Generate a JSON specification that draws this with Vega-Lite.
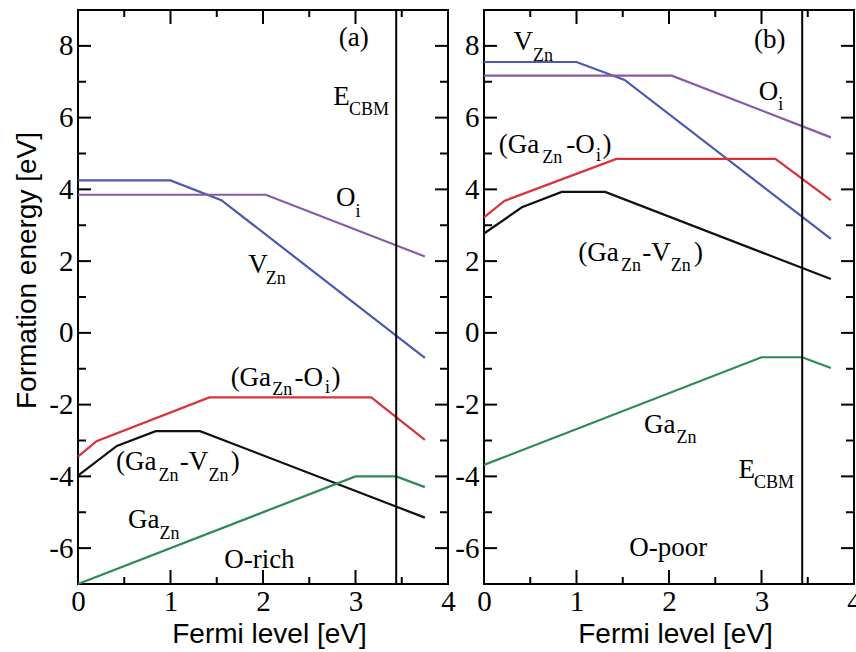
{
  "$schema": "https://vega.github.io/schema/vega-lite/v6.json",
  "padding": {"left": 12, "top": 8, "right": 2, "bottom": 2},
  "background": "white",
  "datasets": {
    "lines": [
      {"panel": "a", "series": "V", "x": 0, "y": 4.25},
      {"panel": "a", "series": "V", "x": 1.0, "y": 4.25},
      {"panel": "a", "series": "V", "x": 1.55, "y": 3.7},
      {"panel": "a", "series": "V", "x": 3.75, "y": -0.7},
      {"panel": "a", "series": "O", "x": 0, "y": 3.85},
      {"panel": "a", "series": "O", "x": 2.03, "y": 3.85},
      {"panel": "a", "series": "O", "x": 3.75, "y": 2.13},
      {"panel": "a", "series": "GO", "x": 0, "y": -3.45},
      {"panel": "a", "series": "GO", "x": 0.2, "y": -3.02},
      {"panel": "a", "series": "GO", "x": 1.42, "y": -1.8},
      {"panel": "a", "series": "GO", "x": 3.17, "y": -1.8},
      {"panel": "a", "series": "GO", "x": 3.75, "y": -2.98},
      {"panel": "a", "series": "GV", "x": 0, "y": -3.98},
      {"panel": "a", "series": "GV", "x": 0.42, "y": -3.15},
      {"panel": "a", "series": "GV", "x": 0.84, "y": -2.74},
      {"panel": "a", "series": "GV", "x": 1.32, "y": -2.74},
      {"panel": "a", "series": "GV", "x": 3.75, "y": -5.15},
      {"panel": "a", "series": "G", "x": 0, "y": -7.0},
      {"panel": "a", "series": "G", "x": 3.0, "y": -4.0},
      {"panel": "a", "series": "G", "x": 3.44, "y": -4.0},
      {"panel": "a", "series": "G", "x": 3.75, "y": -4.3},
      {"panel": "b", "series": "V", "x": 0, "y": 7.55},
      {"panel": "b", "series": "V", "x": 1.0, "y": 7.55},
      {"panel": "b", "series": "V", "x": 1.52, "y": 7.05},
      {"panel": "b", "series": "V", "x": 3.75, "y": 2.62},
      {"panel": "b", "series": "O", "x": 0, "y": 7.17},
      {"panel": "b", "series": "O", "x": 2.03, "y": 7.17},
      {"panel": "b", "series": "O", "x": 3.75, "y": 5.45},
      {"panel": "b", "series": "GO", "x": 0, "y": 3.22},
      {"panel": "b", "series": "GO", "x": 0.22, "y": 3.68},
      {"panel": "b", "series": "GO", "x": 1.43, "y": 4.85},
      {"panel": "b", "series": "GO", "x": 3.15, "y": 4.85},
      {"panel": "b", "series": "GO", "x": 3.75, "y": 3.7},
      {"panel": "b", "series": "GV", "x": 0, "y": 2.77},
      {"panel": "b", "series": "GV", "x": 0.41, "y": 3.5},
      {"panel": "b", "series": "GV", "x": 0.84, "y": 3.93},
      {"panel": "b", "series": "GV", "x": 1.31, "y": 3.93},
      {"panel": "b", "series": "GV", "x": 3.75, "y": 1.5},
      {"panel": "b", "series": "G", "x": 0, "y": -3.68},
      {"panel": "b", "series": "G", "x": 3.0, "y": -0.68},
      {"panel": "b", "series": "G", "x": 3.44, "y": -0.68},
      {"panel": "b", "series": "G", "x": 3.75, "y": -0.98}
    ],
    "cbm": [
      {"panel": "a", "x": 3.44, "y": -7, "y2": 9},
      {"panel": "b", "x": 3.44, "y": -7, "y2": 9}
    ],
    "yt": [
      {"kind": "major", "y": -6}, {"kind": "minor", "y": -5}, {"kind": "major", "y": -4}, {"kind": "minor", "y": -3},
      {"kind": "major", "y": -2}, {"kind": "minor", "y": -1}, {"kind": "major", "y": 0}, {"kind": "minor", "y": 1},
      {"kind": "major", "y": 2}, {"kind": "minor", "y": 3}, {"kind": "major", "y": 4}, {"kind": "minor", "y": 5},
      {"kind": "major", "y": 6}, {"kind": "minor", "y": 7}, {"kind": "major", "y": 8}
    ],
    "xt": [
      {"kind": "minor", "x": 0.5}, {"kind": "major", "x": 1}, {"kind": "minor", "x": 1.5}, {"kind": "major", "x": 2},
      {"kind": "minor", "x": 2.5}, {"kind": "major", "x": 3}, {"kind": "minor", "x": 3.5}
    ],
    "labels": [
      {"panel": "a", "role": "main", "x": 2.82, "y": 8.0, "t": "(a)"},
      {"panel": "a", "role": "main", "x": 2.76, "y": 6.35, "t": "E"},
      {"panel": "a", "role": "sub", "x": 2.93, "y": 6.07, "t": "CBM"},
      {"panel": "a", "role": "main", "x": 2.79, "y": 3.54, "t": "O"},
      {"panel": "a", "role": "sub", "x": 3.0, "y": 3.22, "t": "i"},
      {"panel": "a", "role": "main", "x": 1.84, "y": 1.67, "t": "V"},
      {"panel": "a", "role": "sub", "x": 2.03, "y": 1.36, "t": "Zn"},
      {"panel": "a", "role": "main", "x": 1.65, "y": -1.48, "t": "(Ga"},
      {"panel": "a", "role": "sub", "x": 2.1, "y": -1.72, "t": "Zn"},
      {"panel": "a", "role": "main", "x": 2.34, "y": -1.48, "t": "-O"},
      {"panel": "a", "role": "sub", "x": 2.67, "y": -1.68, "t": "i"},
      {"panel": "a", "role": "main", "x": 2.74, "y": -1.48, "t": ")"},
      {"panel": "a", "role": "main", "x": 0.41, "y": -3.82, "t": "(Ga"},
      {"panel": "a", "role": "sub", "x": 0.87, "y": -4.12, "t": "Zn"},
      {"panel": "a", "role": "main", "x": 1.1, "y": -3.82, "t": "-V"},
      {"panel": "a", "role": "sub", "x": 1.41, "y": -4.12, "t": "Zn"},
      {"panel": "a", "role": "main", "x": 1.65, "y": -3.82, "t": ")"},
      {"panel": "a", "role": "main", "x": 0.54, "y": -5.43, "t": "Ga"},
      {"panel": "a", "role": "sub", "x": 0.88, "y": -5.75, "t": "Zn"},
      {"panel": "a", "role": "main", "x": 1.58, "y": -6.55, "t": "O-rich"},
      {"panel": "b", "role": "main", "x": 0.32, "y": 7.88, "t": "V"},
      {"panel": "b", "role": "sub", "x": 0.53, "y": 7.58, "t": "Zn"},
      {"panel": "b", "role": "main", "x": 2.92, "y": 7.94, "t": "(b)"},
      {"panel": "b", "role": "main", "x": 2.97, "y": 6.49, "t": "O"},
      {"panel": "b", "role": "sub", "x": 3.18, "y": 6.2, "t": "i"},
      {"panel": "b", "role": "main", "x": 0.16, "y": 5.01, "t": "(Ga"},
      {"panel": "b", "role": "sub", "x": 0.63, "y": 4.74, "t": "Zn"},
      {"panel": "b", "role": "main", "x": 0.89, "y": 5.01, "t": "-O"},
      {"panel": "b", "role": "sub", "x": 1.21, "y": 4.78, "t": "i"},
      {"panel": "b", "role": "main", "x": 1.28, "y": 5.01, "t": ")"},
      {"panel": "b", "role": "main", "x": 1.02, "y": 2.0, "t": "(Ga"},
      {"panel": "b", "role": "sub", "x": 1.48, "y": 1.72, "t": "Zn"},
      {"panel": "b", "role": "main", "x": 1.71, "y": 2.0, "t": "-V"},
      {"panel": "b", "role": "sub", "x": 2.02, "y": 1.72, "t": "Zn"},
      {"panel": "b", "role": "main", "x": 2.27, "y": 2.0, "t": ")"},
      {"panel": "b", "role": "main", "x": 1.73, "y": -2.79, "t": "Ga"},
      {"panel": "b", "role": "sub", "x": 2.08, "y": -3.08, "t": "Zn"},
      {"panel": "b", "role": "main", "x": 2.75, "y": -4.04, "t": "E"},
      {"panel": "b", "role": "sub", "x": 2.92, "y": -4.32, "t": "CBM"},
      {"panel": "b", "role": "main", "x": 1.57, "y": -6.21, "t": "O-poor"}
    ]
  },
  "spacing": 36,
  "bounds": "flush",
  "hconcat": [
    {
      "width": 370,
      "height": 574,
      "layer": [
        {
          "data": {"name": "lines"},
          "transform": [{"filter": "datum.panel === 'a'"}],
          "mark": {"type": "line", "strokeWidth": 2.2},
          "encoding": {
            "x": {"field": "x", "type": "quantitative", "scale": {"domain": [0, 4], "nice": false, "zero": false},
              "axis": {"orient": "bottom", "values": [0, 1, 2, 3, 4], "domain": false, "ticks": false, "labelPadding": 3, "labelExpr": "'' + datum.value", "title": "Fermi level [eV]", "titleX": 191, "titlePadding": 4}},
            "y": {"field": "y", "type": "quantitative", "scale": {"domain": [-7, 9], "nice": false, "zero": false},
              "axis": {"orient": "left", "values": [-6, -4, -2, 0, 2, 4, 6, 8], "domain": false, "ticks": false, "labelPadding": 5, "labelExpr": "'' + datum.value", "title": "Formation energy [eV]", "titleX": -51, "titleY": 260, "titleAngle": -90, "titleAlign": "center", "titleBaseline": "middle"}},
            "color": {"field": "series", "type": "nominal", "scale": {"domain": ["V", "O", "GO", "GV", "G"], "range": ["#4a5ab2", "#8a58a8", "#d8323a", "#111111", "#2b8a55"]}, "legend": null}
          }
        },
        {
          "data": {"name": "cbm"},
          "transform": [{"filter": "datum.panel === 'a'"}],
          "mark": {"type": "rule", "color": "black", "strokeWidth": 2},
          "encoding": {"x": {"field": "x", "type": "quantitative"}, "y": {"field": "y", "type": "quantitative"}, "y2": {"field": "y2"}}
        },
        {
          "data": {"name": "yt"}, "transform": [{"filter": "datum.kind === 'major'"}],
          "mark": {"type": "tick", "orient": "horizontal", "size": 13, "thickness": 2, "xOffset": 6.5, "color": "black", "opacity": 1},
          "encoding": {"x": {"datum": 0, "type": "quantitative"}, "y": {"field": "y", "type": "quantitative"}}
        },
        {
          "data": {"name": "yt"}, "transform": [{"filter": "datum.kind === 'minor'"}],
          "mark": {"type": "tick", "orient": "horizontal", "size": 8, "thickness": 2, "xOffset": 4, "color": "black", "opacity": 1},
          "encoding": {"x": {"datum": 0, "type": "quantitative"}, "y": {"field": "y", "type": "quantitative"}}
        },
        {
          "data": {"name": "yt"}, "transform": [{"filter": "datum.kind === 'major'"}],
          "mark": {"type": "tick", "orient": "horizontal", "size": 13, "thickness": 2, "xOffset": -6.5, "color": "black", "opacity": 1},
          "encoding": {"x": {"datum": 4, "type": "quantitative"}, "y": {"field": "y", "type": "quantitative"}}
        },
        {
          "data": {"name": "yt"}, "transform": [{"filter": "datum.kind === 'minor'"}],
          "mark": {"type": "tick", "orient": "horizontal", "size": 8, "thickness": 2, "xOffset": -4, "color": "black", "opacity": 1},
          "encoding": {"x": {"datum": 4, "type": "quantitative"}, "y": {"field": "y", "type": "quantitative"}}
        },
        {
          "data": {"name": "xt"}, "transform": [{"filter": "datum.kind === 'major'"}],
          "mark": {"type": "tick", "orient": "vertical", "size": 14, "thickness": 2, "yOffset": -7, "color": "black", "opacity": 1},
          "encoding": {"x": {"field": "x", "type": "quantitative"}, "y": {"datum": -7, "type": "quantitative"}}
        },
        {
          "data": {"name": "xt"}, "transform": [{"filter": "datum.kind === 'minor'"}],
          "mark": {"type": "tick", "orient": "vertical", "size": 7, "thickness": 2, "yOffset": -3.5, "color": "black", "opacity": 1},
          "encoding": {"x": {"field": "x", "type": "quantitative"}, "y": {"datum": -7, "type": "quantitative"}}
        },
        {
          "data": {"name": "xt"}, "transform": [{"filter": "datum.kind === 'major'"}],
          "mark": {"type": "tick", "orient": "vertical", "size": 14, "thickness": 2, "yOffset": 7, "color": "black", "opacity": 1},
          "encoding": {"x": {"field": "x", "type": "quantitative"}, "y": {"datum": 9, "type": "quantitative"}}
        },
        {
          "data": {"name": "xt"}, "transform": [{"filter": "datum.kind === 'minor'"}],
          "mark": {"type": "tick", "orient": "vertical", "size": 7, "thickness": 2, "yOffset": 3.5, "color": "black", "opacity": 1},
          "encoding": {"x": {"field": "x", "type": "quantitative"}, "y": {"datum": 9, "type": "quantitative"}}
        },
        {
          "data": {"name": "labels"},
          "transform": [{"filter": "datum.panel === 'a' && datum.role === 'main'"}],
          "mark": {"type": "text", "font": "Liberation Serif", "fontSize": 27, "align": "left", "baseline": "alphabetic", "color": "black"},
          "encoding": {"x": {"field": "x", "type": "quantitative"}, "y": {"field": "y", "type": "quantitative"}, "text": {"field": "t"}}
        },
        {
          "data": {"name": "labels"},
          "transform": [{"filter": "datum.panel === 'a' && datum.role === 'sub'"}],
          "mark": {"type": "text", "font": "Liberation Serif", "fontSize": 18, "align": "left", "baseline": "alphabetic", "color": "black"},
          "encoding": {"x": {"field": "x", "type": "quantitative"}, "y": {"field": "y", "type": "quantitative"}, "text": {"field": "t"}}
        }
      ]
    },
    {
      "width": 370,
      "height": 574,
      "layer": [
        {
          "data": {"name": "lines"},
          "transform": [{"filter": "datum.panel === 'b'"}],
          "mark": {"type": "line", "strokeWidth": 2.2},
          "encoding": {
            "x": {"field": "x", "type": "quantitative", "scale": {"domain": [0, 4], "nice": false, "zero": false},
              "axis": {"orient": "bottom", "values": [0, 1, 2, 3, 4], "domain": false, "ticks": false, "labelPadding": 3, "labelExpr": "'' + datum.value", "title": "Fermi level [eV]", "titleX": 191, "titlePadding": 4}},
            "y": {"field": "y", "type": "quantitative", "scale": {"domain": [-7, 9], "nice": false, "zero": false},
              "axis": {"orient": "left", "values": [-6, -4, -2, 0, 2, 4, 6, 8], "domain": false, "ticks": false, "labelPadding": 5, "labelExpr": "'' + datum.value", "title": null}},
            "color": {"field": "series", "type": "nominal", "scale": {"domain": ["V", "O", "GO", "GV", "G"], "range": ["#4a5ab2", "#8a58a8", "#d8323a", "#111111", "#2b8a55"]}, "legend": null}
          }
        },
        {
          "data": {"name": "cbm"},
          "transform": [{"filter": "datum.panel === 'b'"}],
          "mark": {"type": "rule", "color": "black", "strokeWidth": 2},
          "encoding": {"x": {"field": "x", "type": "quantitative"}, "y": {"field": "y", "type": "quantitative"}, "y2": {"field": "y2"}}
        },
        {
          "data": {"name": "yt"}, "transform": [{"filter": "datum.kind === 'major'"}],
          "mark": {"type": "tick", "orient": "horizontal", "size": 13, "thickness": 2, "xOffset": 6.5, "color": "black", "opacity": 1},
          "encoding": {"x": {"datum": 0, "type": "quantitative"}, "y": {"field": "y", "type": "quantitative"}}
        },
        {
          "data": {"name": "yt"}, "transform": [{"filter": "datum.kind === 'minor'"}],
          "mark": {"type": "tick", "orient": "horizontal", "size": 8, "thickness": 2, "xOffset": 4, "color": "black", "opacity": 1},
          "encoding": {"x": {"datum": 0, "type": "quantitative"}, "y": {"field": "y", "type": "quantitative"}}
        },
        {
          "data": {"name": "yt"}, "transform": [{"filter": "datum.kind === 'major'"}],
          "mark": {"type": "tick", "orient": "horizontal", "size": 13, "thickness": 2, "xOffset": -6.5, "color": "black", "opacity": 1},
          "encoding": {"x": {"datum": 4, "type": "quantitative"}, "y": {"field": "y", "type": "quantitative"}}
        },
        {
          "data": {"name": "yt"}, "transform": [{"filter": "datum.kind === 'minor'"}],
          "mark": {"type": "tick", "orient": "horizontal", "size": 8, "thickness": 2, "xOffset": -4, "color": "black", "opacity": 1},
          "encoding": {"x": {"datum": 4, "type": "quantitative"}, "y": {"field": "y", "type": "quantitative"}}
        },
        {
          "data": {"name": "xt"}, "transform": [{"filter": "datum.kind === 'major'"}],
          "mark": {"type": "tick", "orient": "vertical", "size": 14, "thickness": 2, "yOffset": -7, "color": "black", "opacity": 1},
          "encoding": {"x": {"field": "x", "type": "quantitative"}, "y": {"datum": -7, "type": "quantitative"}}
        },
        {
          "data": {"name": "xt"}, "transform": [{"filter": "datum.kind === 'minor'"}],
          "mark": {"type": "tick", "orient": "vertical", "size": 7, "thickness": 2, "yOffset": -3.5, "color": "black", "opacity": 1},
          "encoding": {"x": {"field": "x", "type": "quantitative"}, "y": {"datum": -7, "type": "quantitative"}}
        },
        {
          "data": {"name": "xt"}, "transform": [{"filter": "datum.kind === 'major'"}],
          "mark": {"type": "tick", "orient": "vertical", "size": 14, "thickness": 2, "yOffset": 7, "color": "black", "opacity": 1},
          "encoding": {"x": {"field": "x", "type": "quantitative"}, "y": {"datum": 9, "type": "quantitative"}}
        },
        {
          "data": {"name": "xt"}, "transform": [{"filter": "datum.kind === 'minor'"}],
          "mark": {"type": "tick", "orient": "vertical", "size": 7, "thickness": 2, "yOffset": 3.5, "color": "black", "opacity": 1},
          "encoding": {"x": {"field": "x", "type": "quantitative"}, "y": {"datum": 9, "type": "quantitative"}}
        },
        {
          "data": {"name": "labels"},
          "transform": [{"filter": "datum.panel === 'b' && datum.role === 'main'"}],
          "mark": {"type": "text", "font": "Liberation Serif", "fontSize": 27, "align": "left", "baseline": "alphabetic", "color": "black"},
          "encoding": {"x": {"field": "x", "type": "quantitative"}, "y": {"field": "y", "type": "quantitative"}, "text": {"field": "t"}}
        },
        {
          "data": {"name": "labels"},
          "transform": [{"filter": "datum.panel === 'b' && datum.role === 'sub'"}],
          "mark": {"type": "text", "font": "Liberation Serif", "fontSize": 18, "align": "left", "baseline": "alphabetic", "color": "black"},
          "encoding": {"x": {"field": "x", "type": "quantitative"}, "y": {"field": "y", "type": "quantitative"}, "text": {"field": "t"}}
        }
      ]
    }
  ],
  "config": {
    "view": {"stroke": "black", "strokeWidth": 2},
    "axis": {
      "grid": false,
      "labelFont": "Liberation Serif",
      "labelFontSize": 29,
      "labelColor": "black",
      "labelFlush": false,
      "labelOverlap": false,
      "titleFont": "Liberation Sans",
      "titleFontSize": 28,
      "titleFontWeight": "normal",
      "titleColor": "black"
    }
  }
}
